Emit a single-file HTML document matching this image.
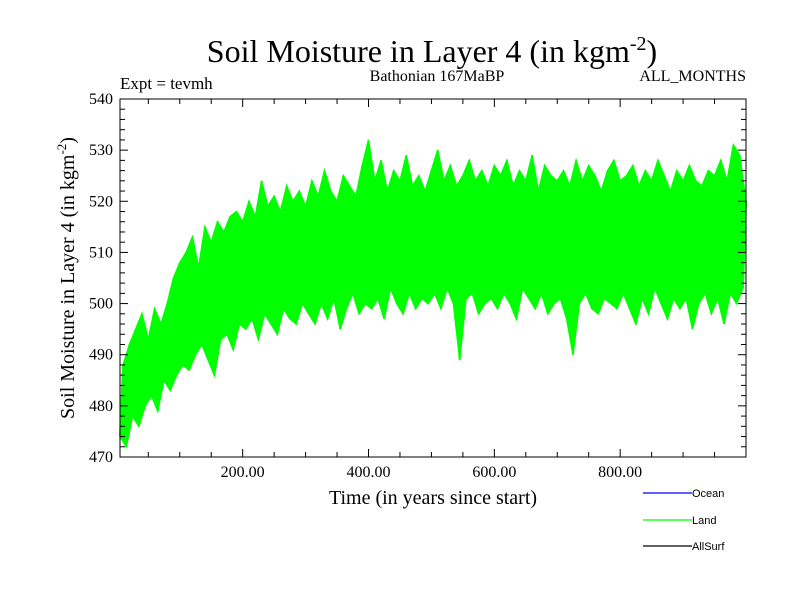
<!DOCTYPE html>
<html><head><meta charset="utf-8"><style>
body{margin:0;background:#fff}
svg text{font-family:"Liberation Serif",serif;fill:#000}
</style></head><body>
<svg width="800" height="600" xmlns="http://www.w3.org/2000/svg">
<text x="432" y="62" font-size="32" text-anchor="middle">Soil Moisture in Layer 4 (in kgm<tspan dy="-12" font-size="20">-2</tspan><tspan dy="12">)</tspan></text>
<text x="120" y="89" font-size="17">Expt = tevmh</text>
<text x="437" y="81" font-size="16" text-anchor="middle">Bathonian 167MaBP</text>
<text x="746" y="81" font-size="16" text-anchor="end">ALL_MONTHS</text>
<text transform="translate(74,278) rotate(-90)" font-size="20" text-anchor="middle">Soil Moisture in Layer 4 (in kgm<tspan dy="-8" font-size="13">-2</tspan><tspan dy="8">)</tspan></text>
<text x="433" y="504" font-size="20" text-anchor="middle">Time (in years since start)</text>
<g id="plot"></g>
<g>
<line x1="643" y1="493" x2="692" y2="493" stroke="#0000ff" stroke-width="1.2"/><text x="692" y="497" font-size="11" style="font-family:'Liberation Sans',sans-serif">Ocean</text>
<line x1="643" y1="520" x2="692" y2="520" stroke="#00ff00" stroke-width="1.2"/><text x="692" y="524" font-size="11" style="font-family:'Liberation Sans',sans-serif">Land</text>
<line x1="643" y1="546" x2="692" y2="546" stroke="#000" stroke-width="1.2"/><text x="692" y="550" font-size="11" style="font-family:'Liberation Sans',sans-serif">AllSurf</text>
</g>
</svg>
<script>
const years=[];for(let y=5;y<=1000;y+=5)years.push(y);
const landValues=[474,488,472,492,478,495,476,498,480,493,482,499,479,496,485,500,483,505,486,508,
488,510,487,513,490,507,492,515,489,512,486,516,493,514,494,517,491,518,496,516,
495,520,497,517,493,524,498,519,496,521,494,518,499,523,497,520,496,522,500,519,
498,524,496,521,500,526,497,522,501,520,495,525,499,523,502,521,498,527,500,532,
499,524,501,528,497,522,503,526,500,524,498,529,502,523,499,525,501,522,500,526,
502,530,499,524,503,527,500,523,489,525,501,528,502,524,498,526,500,523,501,527,
499,525,502,528,500,523,497,526,503,524,501,529,499,522,502,527,498,525,500,524,
501,526,497,523,490,528,500,524,502,527,499,525,498,522,501,526,500,528,499,524,
502,525,499,527,496,523,501,526,498,524,503,528,500,525,497,522,501,526,499,524,
501,527,495,524,500,523,502,526,498,525,501,528,496,524,502,531,500,529,503,520];
const xTicks=[200,400,600,800];
const xTickLabels=["200.00","400.00","600.00","800.00"];
const yTicks=[470,480,490,500,510,520,530,540];
const L=120,R=746,T=99,B=457,X0=5,X1=1000,Y0=470,Y1=540;
const sx=v=>L+(v-X0)/(X1-X0)*(R-L), sy=v=>B-(v-Y0)/(Y1-Y0)*(B-T);
const ns="http://www.w3.org/2000/svg", g=document.getElementById('plot');
function mk(t,a){const e=document.createElementNS(ns,t);for(const k in a)e.setAttribute(k,a[k]);g.appendChild(e);return e;}
// envelope band: pair each low with following high
let up='',lo='';
for(let i=0;i+1<years.length;i+=2){
  const a=landValues[i],b=landValues[i+1];
  const hi=Math.max(a,b),lw=Math.min(a,b);
  up+=(i?'L':'M')+sx(years[i+1]).toFixed(1)+' '+sy(hi).toFixed(1);
  lo=' L'+sx(years[i]).toFixed(1)+' '+sy(lw).toFixed(1)+lo;
}
const band=mk('path',{d:up+lo+' Z',fill:'#00ff00',stroke:'#00ff00','stroke-width':1.5});


let d='';years.forEach((y,i)=>{d+=(i?'L':'M')+sx(y).toFixed(1)+' '+sy(landValues[i]).toFixed(1);});
const line=mk('path',{d:d,fill:'none',stroke:'#00ff00','stroke-width':2});


const fr=mk('rect',{x:L,y:T,width:R-L,height:B-T,fill:'none',stroke:'#000','stroke-width':1});


for(let v=50;v<X1;v+=50){const x=sx(v),len=v%200===0?8:5;
mk('line',{x1:x,y1:B,x2:x,y2:B-len,stroke:'#000'});mk('line',{x1:x,y1:T,x2:x,y2:T+len,stroke:'#000'});}
for(let v=Y0;v<=Y1;v+=2){const y=sy(v),len=v%10===0?8:5;
mk('line',{x1:L,y1:y,x2:L+len,y2:y,stroke:'#000'});mk('line',{x1:R,y1:y,x2:R-len,y2:y,stroke:'#000'});}
xTicks.forEach((v,i)=>{const t=mk('text',{x:sx(v),y:B+20,'font-size':16,'text-anchor':'middle'});t.textContent=xTickLabels[i];

});
yTicks.forEach(v=>{const t=mk('text',{x:L-7,y:sy(v)+5,'font-size':16,'text-anchor':'end'});t.textContent=v;

});
</script>
</body></html>
